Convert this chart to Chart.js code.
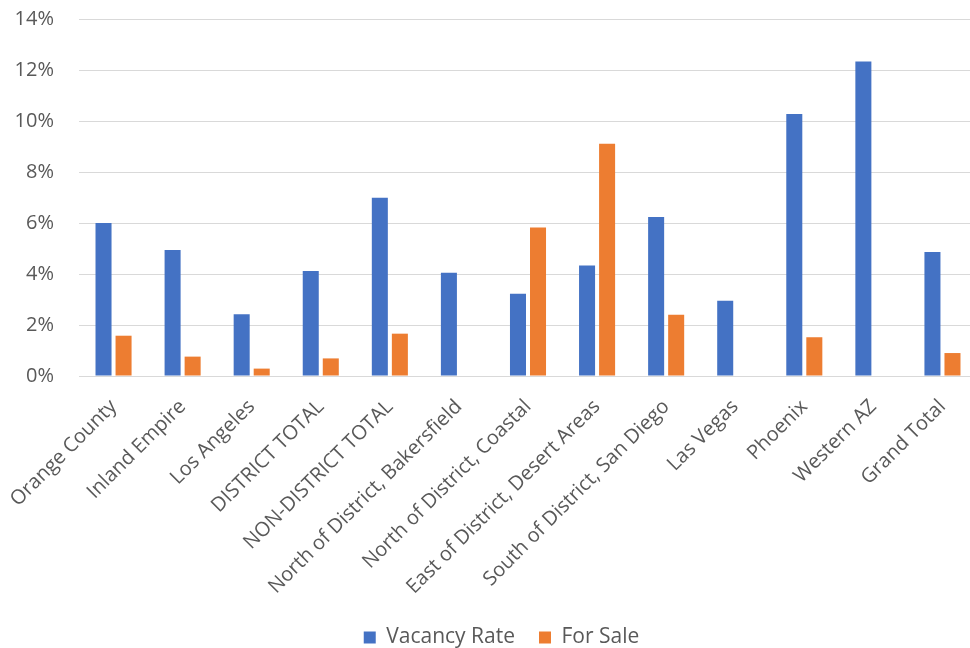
<!DOCTYPE html>
<html>
<head>
<meta charset="utf-8">
<script src="https://cdn.jsdelivr.net/npm/chart.js@4"></script>
<style>
  html, body { margin: 0; padding: 0; background: #fff; overflow: hidden; }
  #wrap { width: 1003px; height: 658px; }
</style>
</head>
<body>
<div id="wrap"><canvas id="vacancyChart"></canvas></div>
<script>
const regions = [
  "Orange County", "Inland Empire", "Los Angeles", "DISTRICT TOTAL",
  "NON-DISTRICT TOTAL", "North of District, Bakersfield", "North of District, Coastal",
  "East of District, Desert Areas", "South of District, San Diego", "Las Vegas",
  "Phoenix", "Western AZ", "Grand Total"
];
const vacancyRate = [6.0, 4.94, 2.42, 4.12, 6.99, 4.05, 3.23, 4.33, 6.24, 2.95, 10.27, 12.33, 4.86];
const forSale = [1.58, 0.76, 0.29, 0.69, 1.66, 0, 5.82, 9.11, 2.40, 0, 1.52, 0, 0.90];
const yTicks = [0, 2, 4, 6, 8, 10, 12, 14];

const font = { family: "'Open Sans', sans-serif", size: 20 };
const textColor = "#595959";
const gridColor = "#d9d9d9";

new Chart(document.getElementById("vacancyChart"), {
  type: "bar",
  data: {
    labels: regions,
    datasets: [
      { label: "Vacancy Rate", data: vacancyRate, backgroundColor: "#4472C4" },
      { label: "For Sale", data: forSale, backgroundColor: "#ED7D31" }
    ]
  },
  options: {
    responsive: true,
    maintainAspectRatio: false,
    animation: false,
    categoryPercentage: 0.58,
    barPercentage: 0.8,
    layout: { padding: { top: 19, left: 0, right: 0, bottom: 0 } },
    plugins: {
      tooltip: { enabled: false },
      legend: {
        position: "bottom",
        labels: {
          font: { family: font.family, size: 21 },
          color: textColor,
          boxWidth: 12,
          boxHeight: 12,
          padding: 24
        }
      }
    },
    scales: {
      x: {
        grid: { display: false, drawTicks: false },
        border: { color: gridColor },
        ticks: {
          font: font,
          color: textColor,
          minRotation: 45,
          maxRotation: 45,
          padding: 19,
          autoSkip: false
        },
        // rotated labels may hang past the plot's left edge
        afterFit: (scale) => {
          scale.height = 227;
          scale.paddingLeft = 0;
          scale.paddingRight = 0;
        }
      },
      y: {
        min: 0,
        max: 14,
        afterBuildTicks: (scale) => { scale.ticks = yTicks.map(v => ({ value: v })); },
        grid: { color: gridColor, drawTicks: false },
        border: { display: false },
        ticks: {
          font: font,
          color: textColor,
          padding: 25,
          callback: (v) => v + "%"
        },
        // tick padding would otherwise push the plot area down
        afterFit: (scale) => {
          scale.width = 79;
          scale.paddingTop = 0;
          scale.paddingBottom = 0;
        }
      },
      // empty right-hand gutter, keeps the legend centred on the whole canvas
      gutter: {
        type: "linear",
        position: "right",
        grid: { display: false, drawTicks: false },
        border: { display: false },
        ticks: { display: false },
        afterFit: (scale) => {
          scale.width = 26;
          scale.paddingTop = 0;
          scale.paddingBottom = 0;
        }
      }
    }
  }
});
</script>
</body>
</html>
